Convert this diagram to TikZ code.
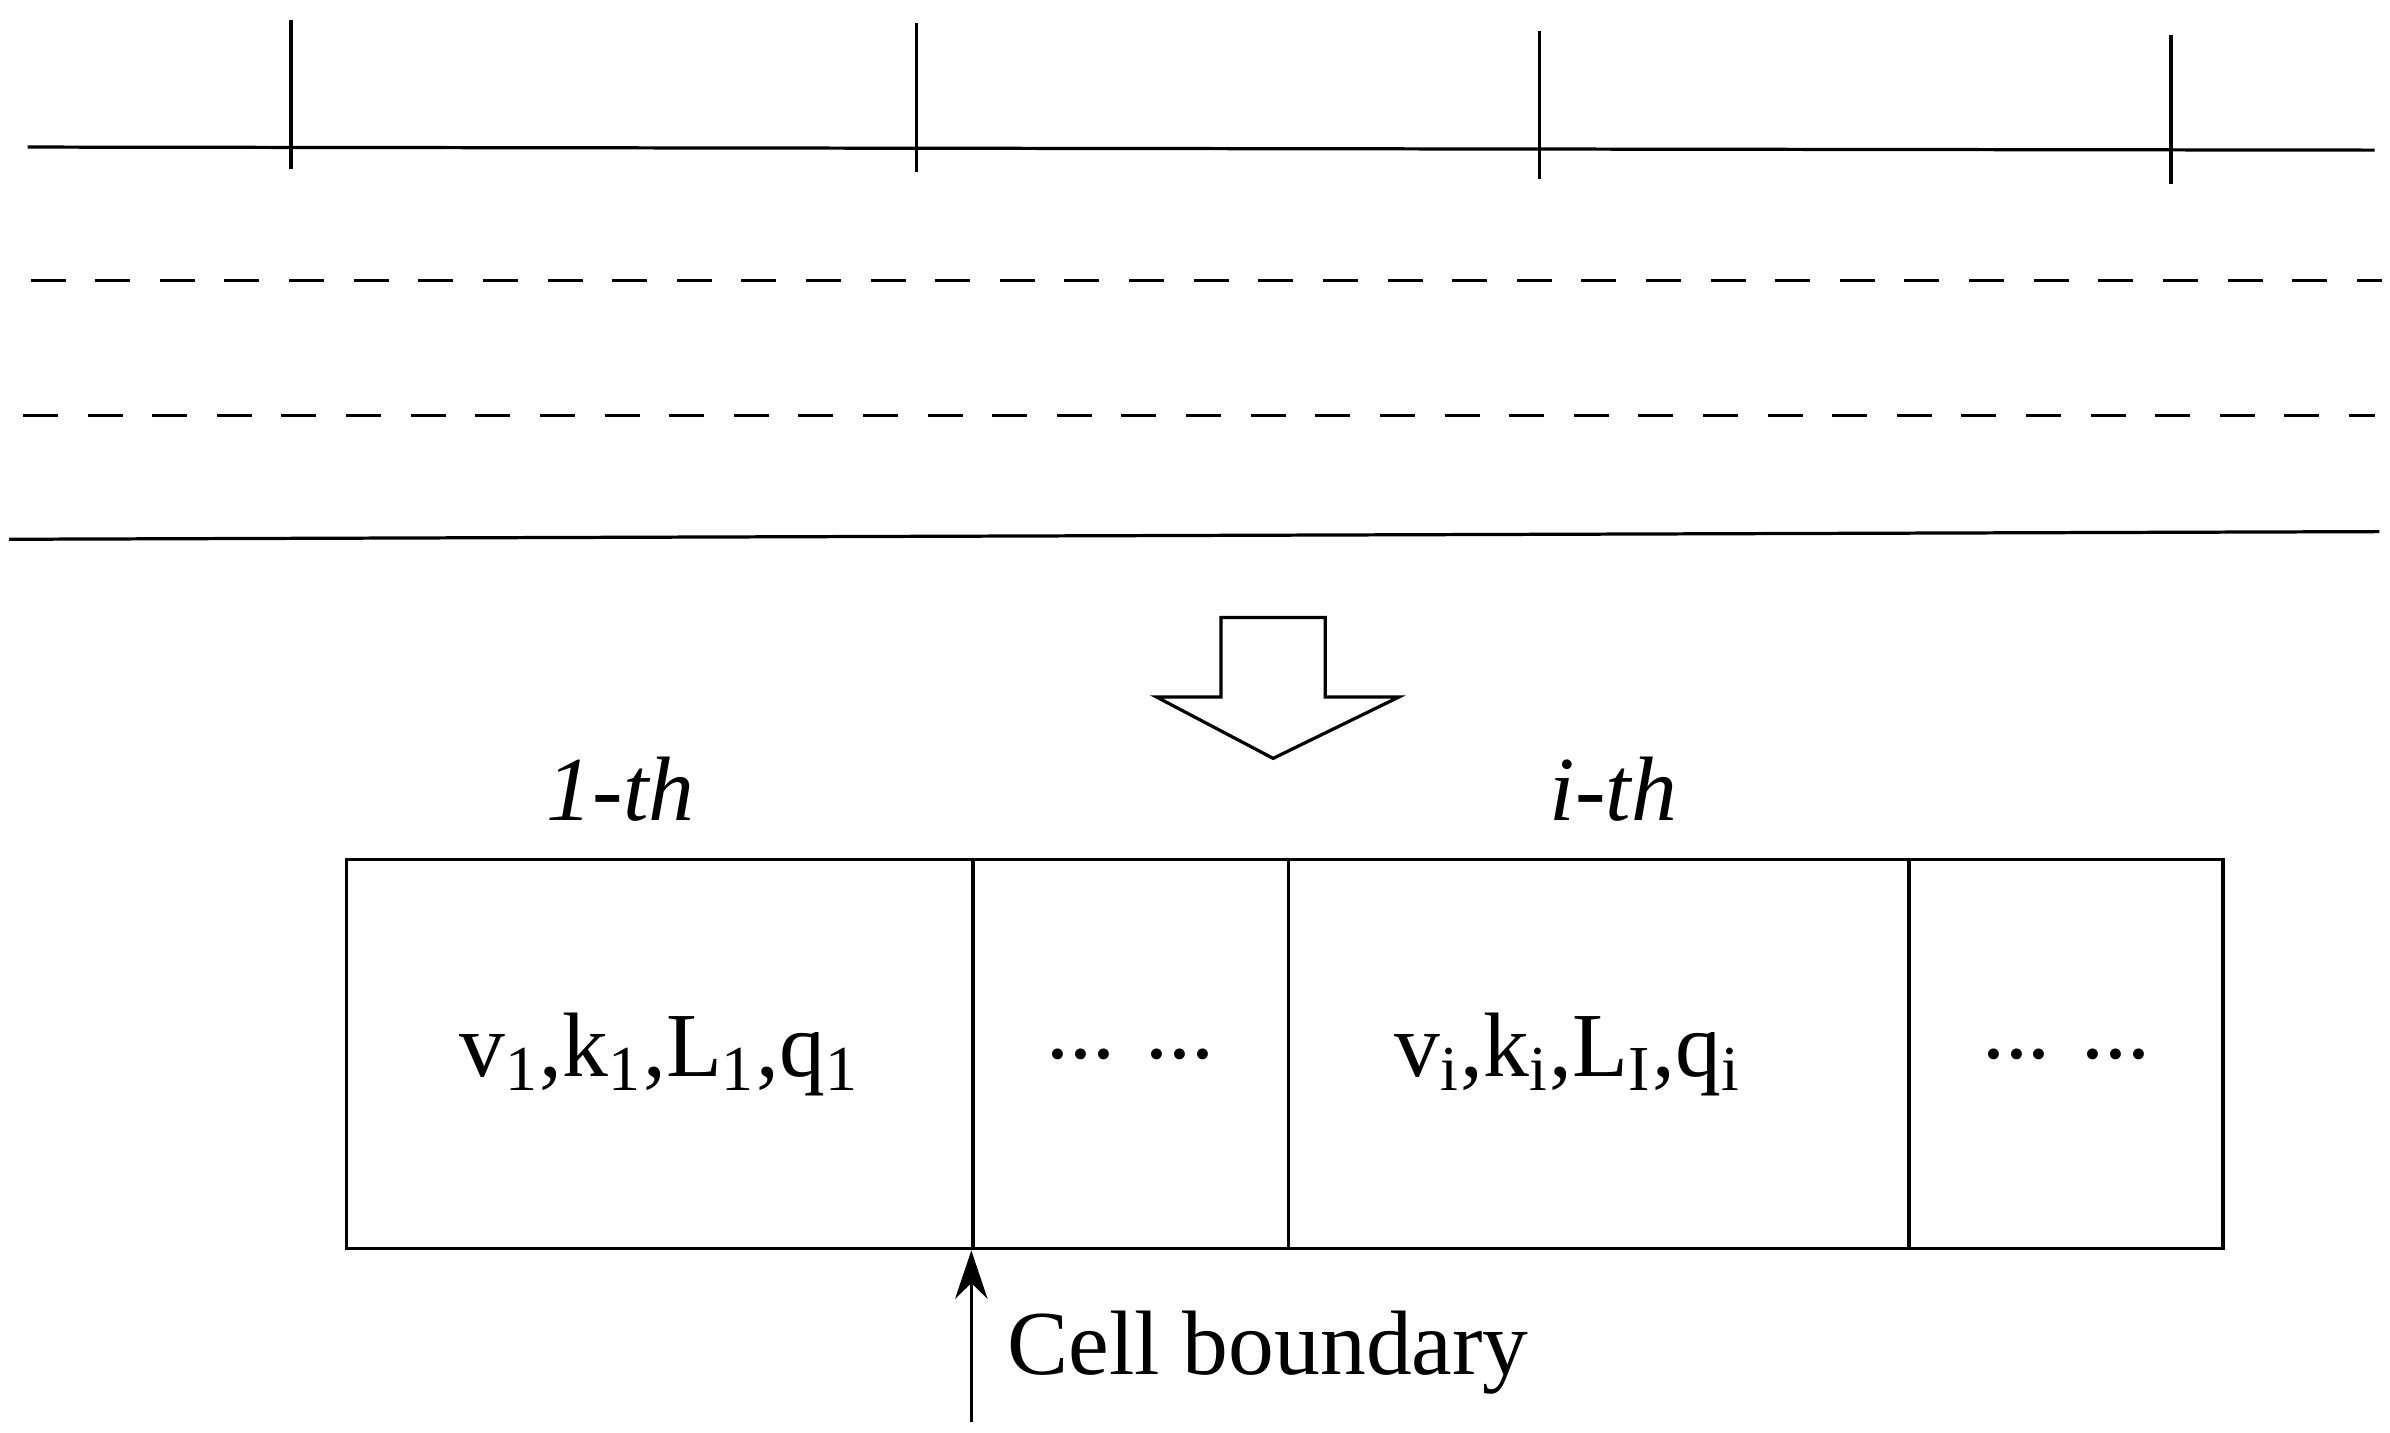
\documentclass[tikz,border=0pt]{standalone}
\usepackage{fontspec}
\setmainfont{Liberation Serif}
\usetikzlibrary{arrows.meta}
\begin{document}
\begin{tikzpicture}[x=0.1mm,y=-0.1mm,line width=0.5pt,
  road/.style={line width=0.6pt},
  lanedash/.style={line width=0.6pt,dash pattern=on 6.5pt off 5.5pt},
  lbl/.style={font=\fontsize{17}{20}\selectfont},
  cell/.style={draw,line width=0.6pt,minimum height=25.4mm,inner sep=0pt,anchor=north west}]
\useasboundingbox (0,0) rectangle (1560,935);
\draw[road] (18,96) -- (1550,98);
\foreach \x/\a/\b in {190/13/110,598/15/112,1005/20/117,1417/23/120}
  \draw[road] (\x,\a) -- (\x,\b);
\draw[lanedash] (20,183) -- (1555,183);
\draw[lanedash] (15,271) -- (1550,271);
\draw[road] (6,352) -- (1553,347);
\draw[road,fill=white] (797,403) -- (865,403) -- (865,455) -- (913,455) -- (831,495) -- (755,455) -- (797,455) -- cycle;
\node[lbl,font=\fontsize{17}{20}\selectfont\itshape] (l1) at (405,515) {1-th};
\node[lbl,font=\fontsize{17}{20}\selectfont\itshape] (li) at (1053,515) {i-th};
\node[cell,minimum width=40.9mm] (c1) at (225,560) {};
\node[cell,minimum width=20.6mm] (c2) at (634,560) {};
\node[cell,minimum width=40.5mm] (c3) at (840,560) {};
\node[cell,minimum width=20.5mm] (c4) at (1245,560) {};
\node[lbl] (t1) at (c1.center) {v\textsubscript{1},k\textsubscript{1},L\textsubscript{1},q\textsubscript{1}};
\node[lbl] (t2) at (c2.center) {... ...};
\node[lbl] (t3) at ([xshift=-2mm]c3.center) {v\textsubscript{i},k\textsubscript{i},L\textsubscript{I},q\textsubscript{i}};
\node[lbl] (t4) at (c4.center) {... ...};
\coordinate (base) at (634,928);
\draw[-{Stealth[length=9pt,width=6pt]},line width=0.6pt] (base) -- (c2.south west);
\node[lbl,anchor=west] (cb) at (645,883) {Cell boundary};
\end{tikzpicture}
\end{document}
